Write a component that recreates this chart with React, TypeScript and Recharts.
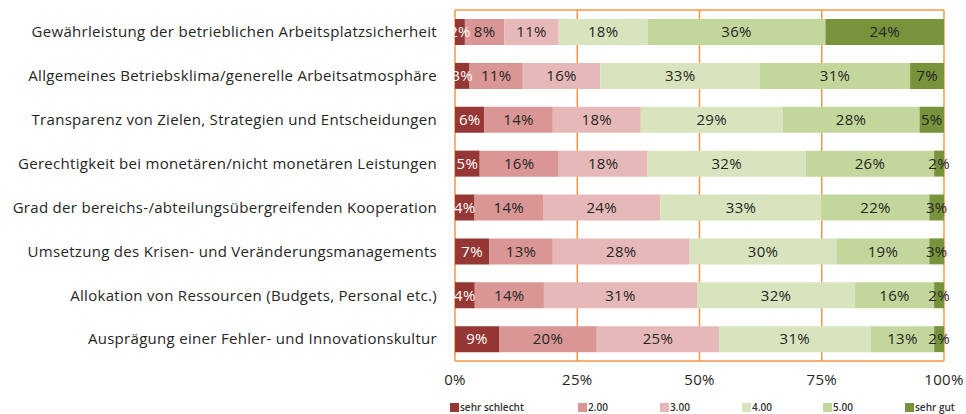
import React from "react";
import {
  BarChart,
  Bar,
  XAxis,
  YAxis,
  CartesianGrid,
  LabelList,
} from "recharts";

// ---------- data ----------

const CATEGORIES = [
  "Gewährleistung der betrieblichen Arbeitsplatzsicherheit",
  "Allgemeines Betriebsklima/generelle Arbeitsatmosphäre",
  "Transparenz von Zielen, Strategien und Entscheidungen",
  "Gerechtigkeit bei monetären/nicht monetären Leistungen",
  "Grad der bereichs-/abteilungsübergreifenden Kooperation",
  "Umsetzung des Krisen- und Veränderungsmanagements",
  "Allokation von Ressourcen (Budgets, Personal etc.)",
  "Ausprägung einer Fehler- und Innovationskultur",
];

const SEHR_SCHLECHT = [2, 3, 6, 5, 4, 7, 4, 9];
const NOTE_2 = [8, 11, 14, 16, 14, 13, 14, 20];
const NOTE_3 = [11, 16, 18, 18, 24, 28, 31, 25];
const NOTE_4 = [18, 33, 29, 32, 33, 30, 32, 31];
const NOTE_5 = [36, 31, 28, 26, 22, 19, 16, 13];
const SEHR_GUT = [24, 7, 5, 2, 3, 3, 2, 2];

const SERIES_NAMES = ["sehr schlecht", "2.00", "3.00", "4.00", "5.00", "sehr gut"];
const X_TICKS = [0, 0.25, 0.5, 0.75, 1];

// ---------- styling ----------

const COLORS = ["#953735", "#D99694", "#E6B9B8", "#D7E4BD", "#C3D69B", "#77933C"];
const LABEL_COLORS = ["#ffffff", "#262626", "#262626", "#262626", "#262626", "#262626"];
const GRID = "#F79646";
const FONT = "'Open Sans', sans-serif";

const KEYS = ["s1", "s2", "s3", "s4", "s5", "s6"];
const VALUES = [SEHR_SCHLECHT, NOTE_2, NOTE_3, NOTE_4, NOTE_5, SEHR_GUT];

const data = CATEGORIES.map((name, i) => {
  const row: Record<string, string | number> = { name };
  KEYS.forEach((k, j) => {
    row[k] = VALUES[j][i];
  });
  return row;
});

// legend item left offsets (layout only)
const LEGEND_LEFT = [450, 578, 660, 742, 823, 905];

function ChartLegend() {
  return (
    <div style={{ position: "absolute", left: 0, top: 401, width: 966, height: 12 }}>
      {SERIES_NAMES.map((n, i) => (
        <div
          key={n}
          style={{
            position: "absolute",
            left: LEGEND_LEFT[i],
            top: 0,
            display: "flex",
            alignItems: "center",
            fontFamily: FONT,
            fontSize: 10,
            fontWeight: 600,
            color: "#333",
            whiteSpace: "nowrap",
            lineHeight: "12px",
          }}
        >
          <span
            style={{
              display: "inline-block",
              width: 9,
              height: 9,
              background: COLORS[i],
              marginRight: 1,
            }}
          />
          {n}
        </div>
      ))}
    </div>
  );
}

export default function App() {
  return (
    <div style={{ position: "absolute", left: 0, top: 0, width: 966, height: 414, background: "#fff" }}>
      <BarChart
        width={966}
        height={414}
        data={data}
        layout="vertical"
        stackOffset="expand"
        barSize={26}
        margin={{ top: 10, right: 22, left: 0, bottom: 23 }}
      >
        <CartesianGrid
          stroke={GRID}
          strokeWidth={1.5}
          horizontalCoordinatesGenerator={({ offset }: any) => [
            offset.top,
            offset.top + offset.height,
          ]}
        />
        <XAxis
          type="number"
          domain={[0, 1]}
          ticks={X_TICKS}
          tickFormatter={(v: number) => `${Math.round(v * 100)}%`}
          axisLine={false}
          tickLine={false}
          tickMargin={7}
          tick={{ fontSize: 15, fill: "#262626", fontFamily: FONT, letterSpacing: 0.3 }}
          interval={0}
        />
        <YAxis
          type="category"
          dataKey="name"
          width={455}
          axisLine={false}
          tickLine={false}
          tickMargin={12}
          interval={0}
          tick={{ fontSize: 15, fill: "#262626", fontFamily: FONT, letterSpacing: 0.3 }}
        />
        {KEYS.map((k, i) => (
          <Bar
            key={k}
            dataKey={k}
            name={SERIES_NAMES[i]}
            stackId="a"
            fill={COLORS[i]}
            isAnimationActive={false}
          >
            <LabelList
              dataKey={k}
              position="center"
              formatter={(v: number) => `${v}%`}
              style={{ fontSize: 15, fill: LABEL_COLORS[i], fontFamily: FONT, letterSpacing: 0.3 }}
            />
          </Bar>
        ))}
      </BarChart>
      <ChartLegend />
    </div>
  );
}
